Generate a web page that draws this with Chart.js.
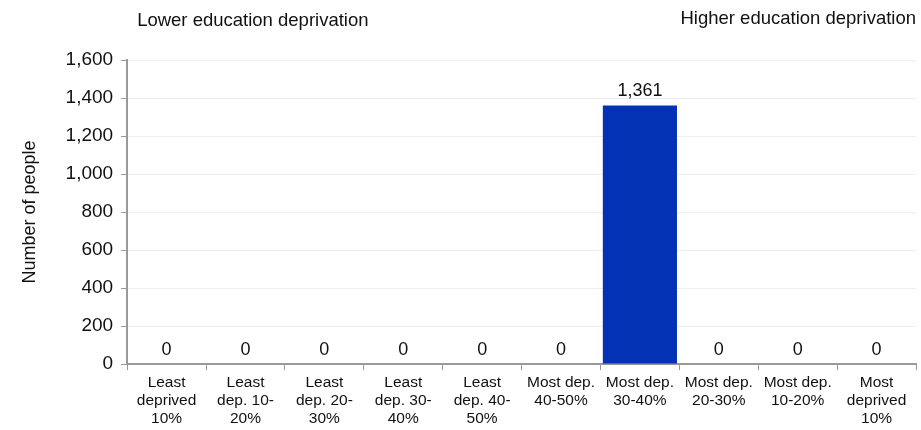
<!DOCTYPE html>
<html>
<head>
<meta charset="utf-8">
<script src="https://cdn.jsdelivr.net/npm/chart.js@4"></script>
<style>
html,body{margin:0;padding:0;background:#fff;}
#wrap{position:relative;width:921px;height:430px;}
</style>
</head>
<body>
<div id="wrap"><canvas id="c" width="921" height="430"></canvas></div>
<script>
const categories = [
  ["Least","deprived","10%"],
  ["Least","dep. 10-","20%"],
  ["Least","dep. 20-","30%"],
  ["Least","dep. 30-","40%"],
  ["Least","dep. 40-","50%"],
  ["Most dep.","40-50%"],
  ["Most dep.","30-40%"],
  ["Most dep.","20-30%"],
  ["Most dep.","10-20%"],
  ["Most","deprived","10%"]
];
const peopleCounts = [0, 0, 0, 0, 0, 0, 1361, 0, 0, 0];
const yTicks = [0, 200, 400, 600, 800, 1000, 1200, 1400, 1600];
const leftNote = "Lower education deprivation";
const rightNote = "Higher education deprivation";
const yTitle = "Number of people";

const FONT = "'Liberation Sans', Arial, sans-serif";
const fmt = v => v.toLocaleString('en-US');

const labelPlugin = {
  id: 'labels',
  afterDatasetsDraw(chart) {
    const ctx = chart.ctx;
    const meta = chart.getDatasetMeta(0);
    ctx.save();
    ctx.font = "18px " + FONT;
    ctx.fillStyle = "#111";
    ctx.textAlign = "center";
    ctx.textBaseline = "alphabetic";
    meta.data.forEach((bar, i) => {
      ctx.fillText(fmt(peopleCounts[i]), bar.x, bar.y - 9);
    });
    const a = chart.chartArea;
    ctx.font = "18.5px " + FONT;
    ctx.textBaseline = "middle";
    ctx.textAlign = "left";
    ctx.fillText(leftNote, a.left + 10, 21);
    ctx.textAlign = "right";
    ctx.fillText(rightNote, a.right, 19);
    ctx.restore();
  }
};

new Chart(document.getElementById('c'), {
  type: 'bar',
  data: {
    labels: categories,
    datasets: [{
      data: peopleCounts,
      backgroundColor: '#0432b4',
      borderWidth: 0,
      barPercentage: 0.94,
      categoryPercentage: 1.0
    }]
  },
  options: {
    responsive: false,
    animation: false,
    devicePixelRatio: 1,
    layout: { padding: { top: 60, right: 5, left: 19, bottom: -2 } },
    plugins: { legend: { display: false }, tooltip: { enabled: false } },
    scales: {
      x: {
        grid: { display: true, drawOnChartArea: false, drawTicks: true, tickLength: 6, color: '#999', offset: true },
        border: { color: '#999', width: 2 },
        ticks: { color: '#111', font: { family: FONT, size: 15.5, lineHeight: 1.16 }, maxRotation: 0, autoSkip: false, padding: 4 }
      },
      y: {
        min: 0, max: 1600,
        afterBuildTicks(axis) { axis.ticks = yTicks.map(v => ({ value: v })); },
        grid: { color: '#eeeeee', lineWidth: 1, drawTicks: true, tickLength: 6, tickColor: '#999' },
        border: { color: '#999', width: 2 },
        title: { display: true, text: yTitle, color: '#111', font: { family: FONT, size: 18 }, padding: { top: 0, bottom: 17 } },
        ticks: { color: '#111', font: { family: FONT, size: 19 }, padding: 8, callback: v => fmt(v) }
      }
    }
  },
  plugins: [labelPlugin]
});
</script>
</body>
</html>
